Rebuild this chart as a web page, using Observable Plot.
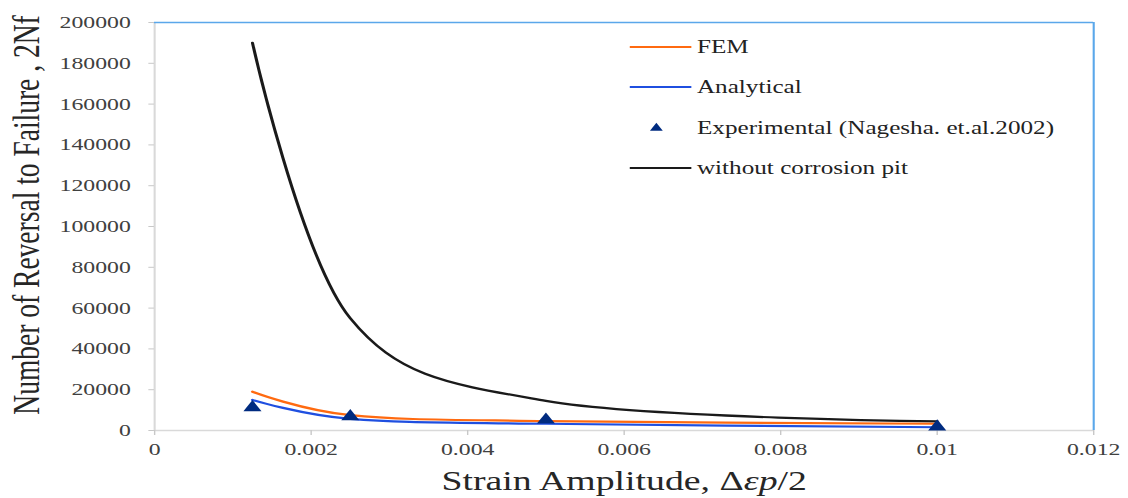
<!DOCTYPE html>
<html>
<head>
<meta charset="utf-8">
<script src="https://cdn.jsdelivr.net/npm/d3@7"></script>
<script src="https://cdn.jsdelivr.net/npm/@observablehq/plot@0.6"></script>
<style>
  html, body { margin: 0; padding: 0; background: #fff; overflow: hidden; }
  #wrap { position: relative; width: 806px; height: 498px; transform-origin: 0 0; }
  #wrap svg { position: absolute; left: 0; top: 0; }
  #wrap svg text { font-family: "Liberation Serif", "Times New Roman", serif; }
</style>
</head>
<body>
<div id="wrap"></div>
<script>
// ---- data ----
const strain = [0.00125, 0.0025, 0.005, 0.01];
const femCycles = [19000, 7500, 4600, 3300];
const analyticalCycles = [15000, 5700, 3300, 1600];
const experimentalCycles = [11300, 6900, 5200, 1800];
const withoutPitCycles = [190000, 55000, 14500, 4500];
const xTicks = [0, 0.002, 0.004, 0.006, 0.008, 0.01, 0.012];
const yTicks = [0, 20000, 40000, 60000, 80000, 100000, 120000, 140000, 160000, 180000, 200000];
const seriesNames = ["FEM", "Analytical", "Experimental (Nagesha. et.al.2002)", "without corrosion pit"];
const seriesColors = ["#FF6A10", "#1F4FE0", "#002B80", "#1A1A1A"];
const xTitle = "Strain Amplitude, ";
const yTitle = "Number of Reversal to Failure , 2Nf";

const W = 806, H = 498;
const rows = vals => strain.map((s, i) => ({strain: s, cycles: vals[i]}));
const font = "Liberation Serif, Times New Roman, serif";

const chart = Plot.plot({
  width: W, height: H,
  marginLeft: 110, marginRight: 25, marginTop: 22, marginBottom: 68,
  x: {domain: [0, 0.012]},
  y: {domain: [0, 200000]},
  style: {fontFamily: font, fontSize: "17px", color: "#404040", background: "transparent"},
  marks: [
    Plot.ruleY([0], {stroke: "#d9d9d9", strokeWidth: 1.5}),
    Plot.ruleX([0], {stroke: "#d9d9d9", strokeWidth: 1.5}),
    Plot.ruleY([200000], {stroke: "#5aa7ea", strokeWidth: 1.5}),
    Plot.ruleX([0.012], {stroke: "#5aa7ea", strokeWidth: 1.5}),
    Plot.axisY({ticks: yTicks, tickFormat: d => String(d), tickSize: 4, tickPadding: 13, label: null,
      stroke: "#c8c8c8", fill: "#404040", fontSize: 17, fontFamily: font}),
    Plot.axisX({ticks: xTicks, tickFormat: d => String(d), tickSize: 5, tickPadding: 7, label: null,
      stroke: "#c8c8c8", fill: "#404040", fontSize: 17, fontFamily: font}),
    Plot.line(rows(withoutPitCycles), {x: "strain", y: "cycles", stroke: seriesColors[3], strokeWidth: 2.2, curve: "cardinal"}),
    Plot.line(rows(femCycles), {x: "strain", y: "cycles", stroke: seriesColors[0], strokeWidth: 2.2, curve: "cardinal"}),
    Plot.line(rows(analyticalCycles), {x: "strain", y: "cycles", stroke: seriesColors[1], strokeWidth: 2.2, curve: "cardinal"}),
    Plot.dot(rows(experimentalCycles), {x: "strain", y: "cycles", symbol: "triangle", r: 4.8, fill: seriesColors[2], stroke: "none"})
  ]
});

const wrap = document.getElementById("wrap");
wrap.appendChild(chart);

// ---- overlay: legend and axis titles ----
const ov = d3.create("svg").attr("width", W).attr("height", H)
  .style("pointer-events", "none").attr("font-family", font);

const legendY = [47, 87, 128, 168];
seriesNames.forEach((name, i) => {
  const g = ov.append("g").attr("transform", `translate(0,${legendY[i]})`);
  if (i === 2) {
    g.append("path").attr("transform", "translate(469,0)")
      .attr("d", d3.symbol(d3.symbolTriangle, Math.PI * 3.4 * 3.4)())
      .attr("fill", seriesColors[i]);
  } else {
    g.append("line").attr("x1", 450).attr("x2", 494).attr("y1", 0).attr("y2", 0)
      .attr("stroke", seriesColors[i]).attr("stroke-width", 2.2);
  }
  g.append("text").attr("x", 498).attr("dy", "0.33em").attr("font-size", 18)
    .attr("fill", "#222").text(name);
});

const xt = ov.append("text").attr("x", 446).attr("y", 490).attr("text-anchor", "middle")
  .attr("font-size", 27).attr("fill", "#262626");
xt.append("tspan").text(xTitle + "\u0394");
xt.append("tspan").attr("font-style", "italic").text("\u03B5p");
xt.append("tspan").text("/2");

ov.append("text").attr("transform", "translate(19,215) rotate(-90)")
  .attr("text-anchor", "middle").attr("dy", "0.33em")
  .attr("font-size", 27.5).attr("fill", "#262626").text(yTitle);

wrap.appendChild(ov.node());
wrap.style.transform = `scaleX(${1128 / W})`;
</script>
</body>
</html>
